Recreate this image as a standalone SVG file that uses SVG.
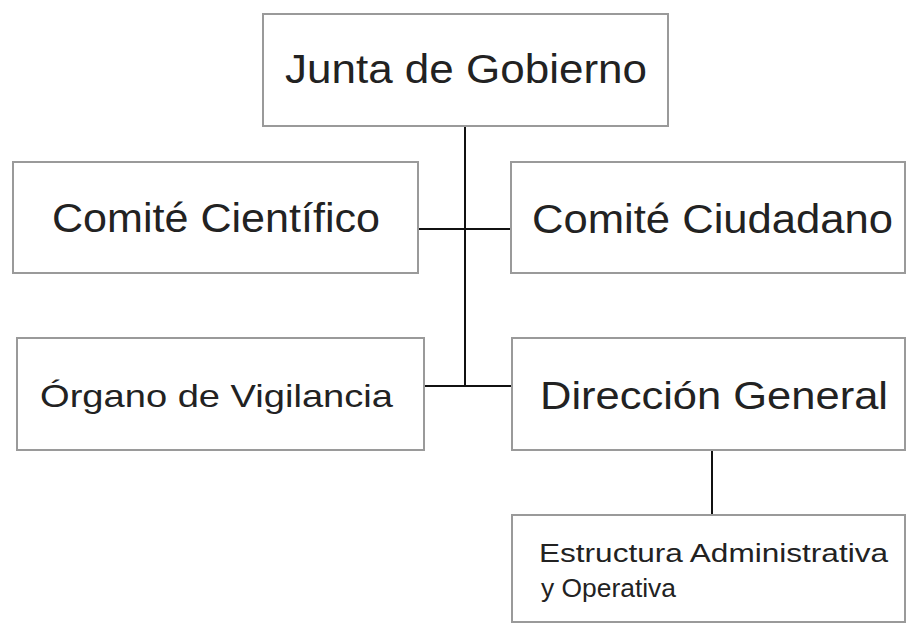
<svg xmlns="http://www.w3.org/2000/svg" width="907" height="626" viewBox="0 0 907 626">
<style>
rect.box{fill:#fff;stroke:#9a9a9a;stroke-width:2}
text{font-family:"Liberation Sans",Arial,Helvetica,sans-serif;fill:#222}
.conn line{stroke:#111;stroke-width:2}
</style>
<rect width="907" height="626" fill="#fff"/>
<g class="conn">
<line x1="465" y1="126" x2="465" y2="387"/>
<line x1="418" y1="229" x2="511" y2="229"/>
<line x1="424" y1="386" x2="512" y2="386"/>
<line x1="712" y1="450" x2="712" y2="515"/>
</g>
<g id="junta"><rect class="box" x="263" y="14" width="405" height="112"/><text x="285" y="83" font-size="40" textLength="362" lengthAdjust="spacingAndGlyphs">Junta de Gobierno</text></g>
<g id="cientifico"><rect class="box" x="13" y="162" width="405" height="111"/><text x="52" y="232" font-size="40" textLength="328" lengthAdjust="spacingAndGlyphs">Comité Científico</text></g>
<g id="ciudadano"><rect class="box" x="511" y="162" width="394" height="111"/><text x="532" y="233" font-size="40" textLength="361" lengthAdjust="spacingAndGlyphs">Comité Ciudadano</text></g>
<g id="organo"><rect class="box" x="17" y="338" width="407" height="112"/><text x="40" y="407" font-size="32" textLength="353" lengthAdjust="spacingAndGlyphs">Órgano de Vigilancia</text></g>
<g id="direccion"><rect class="box" x="512" y="338" width="393" height="112"/><text x="540" y="409" font-size="38" textLength="348" lengthAdjust="spacingAndGlyphs">Dirección General</text></g>
<g id="estructura"><rect class="box" x="512" y="515" width="393" height="107"/><text x="539" y="562" font-size="25" textLength="349" lengthAdjust="spacingAndGlyphs">Estructura Administrativa</text><text x="541" y="597" font-size="25" textLength="135" lengthAdjust="spacingAndGlyphs">y Operativa</text></g>
</svg>
